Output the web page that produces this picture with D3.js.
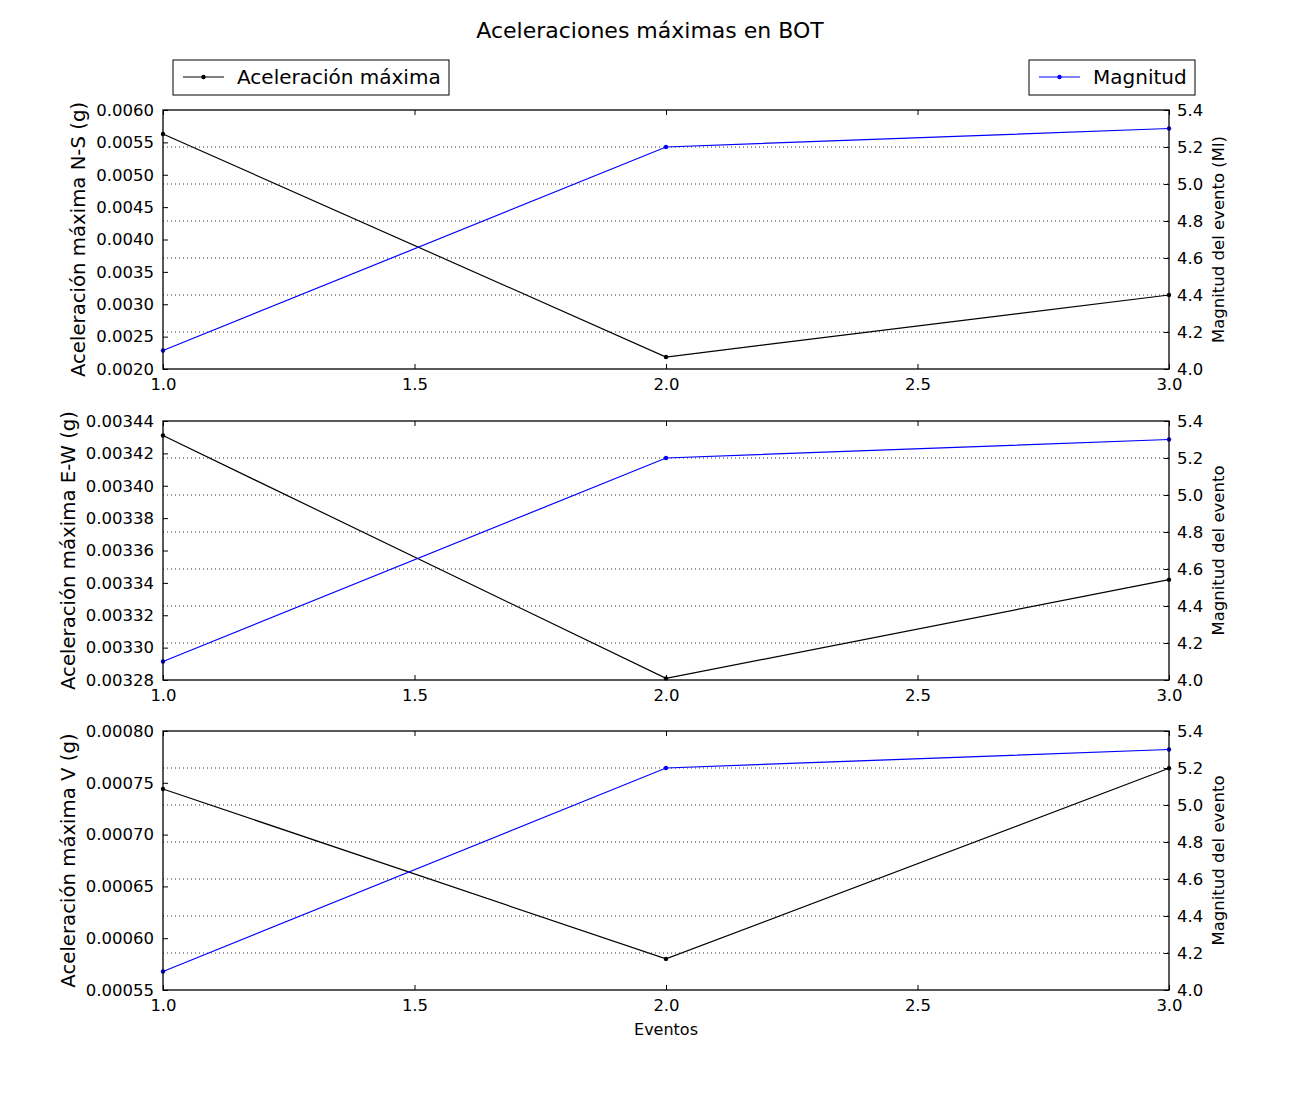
<!DOCTYPE html>
<html>
<head>
<meta charset="utf-8">
<script src="https://cdn.jsdelivr.net/npm/d3@7"></script>
<style>
  body { margin: 0; background: #fff; }
  svg text { font-family: "DejaVu Sans", sans-serif; fill: #000; }
</style>
</head>
<body>
<svg id="chart"></svg>
<script>
let eventos = [1, 2, 3]
let magnitud = [4.1, 5.2, 5.3]
let accNS = [0.00563, 0.002185, 0.003143]
let accEW = [0.003431, 0.003281, 0.003342]
let accV = [0.000744, 0.00058, 0.000764]

let xTicks = [1.0, 1.5, 2.0, 2.5, 3.0]
let magTicks = [4.0, 4.2, 4.4, 4.6, 4.8, 5.0, 5.2, 5.4]
let nsTicks = [0.0020, 0.0025, 0.0030, 0.0035, 0.0040, 0.0045, 0.0050, 0.0055, 0.0060]
let ewTicks = [0.00328, 0.00330, 0.00332, 0.00334, 0.00336, 0.00338, 0.00340, 0.00342, 0.00344]
let vTicks = [0.00055, 0.00060, 0.00065, 0.00070, 0.00075, 0.00080]

let panels = [
  { data: accNS, ticks: nsTicks, fmt: '.4f', label: 'Aceleración máxima N-S (g)', right: 'Magnitud del evento (Ml)' },
  { data: accEW, ticks: ewTicks, fmt: '.5f', label: 'Aceleración máxima E-W (g)', right: 'Magnitud del evento' },
  { data: accV, ticks: vTicks, fmt: '.5f', label: 'Aceleración máxima V (g)', right: 'Magnitud del evento' }
]

let svgWidth = 1300, svgHeight = 1100
let left = 163, right = 1169
let tops = [110, 421, 731], panelH = 259

let svg = d3.select('#chart')
  .attr('width', svgWidth)
  .attr('height', svgHeight)

let x = d3.scaleLinear().domain([1, 3]).range([left, right])

// titulo
svg.append('text')
  .attr('x', 650).attr('y', 38)
  .attr('text-anchor', 'middle')
  .style('font-size', '22px')
  .text('Aceleraciones máximas en BOT')

panels.forEach(function (p, i) {
  let top = tops[i], bottom = top + panelH
  let y = d3.scaleLinear().domain(d3.extent(p.ticks)).range([bottom, top])
  let yMag = d3.scaleLinear().domain([4.0, 5.4]).range([bottom, top])
  let g = svg.append('g')

  // grid van de rechter as
  g.selectAll('.grid')
    .data(magTicks.slice(1, -1))
    .enter()
    .append('line')
    .attr('x1', left).attr('x2', right)
    .attr('y1', d => yMag(d)).attr('y2', d => yMag(d))
    .attr('stroke', '#333')
    .attr('stroke-width', 1)
    .attr('stroke-dasharray', '1,3')

  let line = d3.line().x((d, j) => x(eventos[j]))

  // aceleracion
  g.append('path')
    .datum(p.data)
    .attr('d', line.y(d => y(d)))
    .attr('fill', 'none').attr('stroke', '#000').attr('stroke-width', 1.2)
  g.selectAll('.dot-a')
    .data(p.data)
    .enter()
    .append('circle')
    .attr('cx', (d, j) => x(eventos[j])).attr('cy', d => y(d))
    .attr('r', 2.2).attr('fill', '#000')

  // magnitud
  g.append('path')
    .datum(magnitud)
    .attr('d', d3.line().x((d, j) => x(eventos[j])).y(d => yMag(d)))
    .attr('fill', 'none').attr('stroke', '#0000ff').attr('stroke-width', 1.2)
  g.selectAll('.dot-m')
    .data(magnitud)
    .enter()
    .append('circle')
    .attr('cx', (d, j) => x(eventos[j])).attr('cy', d => yMag(d))
    .attr('r', 2.2).attr('fill', '#0000ff')

  // frame
  g.append('rect')
    .attr('x', left).attr('y', top)
    .attr('width', right - left).attr('height', panelH)
    .attr('fill', 'none').attr('stroke', '#000').attr('stroke-width', 1.3)

  // assen met ticks naar binnen
  let tickStyle = function (sel) {
    sel.select('.domain').remove()
    sel.selectAll('text').style('font-size', '16.5px').style('font-family', '"DejaVu Sans", sans-serif')
    sel.selectAll('line').attr('stroke-width', 1)
  }
  g.append('g')
    .attr('transform', `translate(0,${bottom})`)
    .call(d3.axisBottom(x).tickValues(xTicks).tickFormat(d3.format('.1f')).tickSizeInner(-5).tickPadding(9))
    .call(tickStyle)
  g.append('g')
    .attr('transform', `translate(0,${top})`)
    .call(d3.axisTop(x).tickValues(xTicks).tickFormat('').tickSizeInner(-5))
    .call(tickStyle)
  let yAxisG = g.append('g')
    .attr('transform', `translate(${left},0)`)
    .call(d3.axisLeft(y).tickValues(p.ticks).tickFormat(d3.format(p.fmt)).tickSizeInner(-5).tickPadding(9))
    .call(tickStyle)
  g.append('g')
    .attr('transform', `translate(${right},0)`)
    .call(d3.axisRight(yMag).tickValues(magTicks).tickFormat(d3.format('.1f')).tickSizeInner(-5).tickPadding(8))
    .call(tickStyle)

  // label links van de tick labels, zoals matplotlib
  let tickLeft = left + yAxisG.node().getBBox().x
  g.append('text')
    .attr('transform', `translate(${tickLeft - 11},${top + panelH / 2}) rotate(-90)`)
    .attr('text-anchor', 'middle')
    .style('font-size', '19.7px')
    .text(p.label)
  g.append('text')
    .attr('transform', `translate(1224,${top + panelH / 2}) rotate(-90)`)
    .attr('text-anchor', 'middle')
    .style('font-size', '16.5px')
    .text(p.right)
})

svg.append('text')
  .attr('x', 666).attr('y', 1035)
  .attr('text-anchor', 'middle')
  .style('font-size', '16px')
  .text('Eventos')

// legendas
let legends = [
  { x: 173, w: 276, color: '#000', text: 'Aceleración máxima' },
  { x: 1029, w: 166, color: '#0000ff', text: 'Magnitud' }
]
legends.forEach(function (l) {
  let lg = svg.append('g').attr('transform', `translate(${l.x},60)`)
  lg.append('rect').attr('width', l.w).attr('height', 35)
    .attr('fill', '#fff').attr('stroke', '#000').attr('stroke-width', 1)
  lg.append('line').attr('x1', 10).attr('x2', 51).attr('y1', 17).attr('y2', 17)
    .attr('stroke', l.color).attr('stroke-width', 1.2)
  lg.append('circle').attr('cx', 30.5).attr('cy', 17).attr('r', 2.2).attr('fill', l.color)
  lg.append('text').attr('x', 64).attr('y', 17).attr('dy', '0.35em')
    .style('font-size', '20px')
    .text(l.text)
})
</script>
</body>
</html>
